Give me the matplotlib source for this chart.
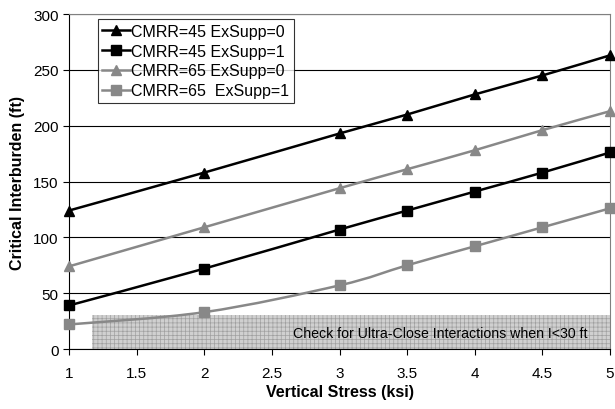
import numpy as np
import matplotlib
matplotlib.use('Agg')
import matplotlib.pyplot as plt
from matplotlib.path import Path
from matplotlib.patches import PathPatch, Rectangle
from matplotlib.lines import Line2D

plt.rcParams['font.family'] = ['Liberation Sans', 'DejaVu Sans']
plt.rcParams['hatch.linewidth'] = 0.5

stress = [1, 2, 3, 3.5, 4, 4.5, 5]
cmrr45_ex0 = [124, 158, 193, 210, 228, 245, 263]
cmrr45_ex1 = [39, 72, 107, 124, 141, 158, 176]
cmrr65_ex0 = [74, 109, 144, 161, 178, 196, 213]
cmrr65_ex1 = [22, 33, 57, 75, 92, 109, 126]
labels = ['CMRR=45 ExSupp=0', 'CMRR=45 ExSupp=1', 'CMRR=65 ExSupp=0', 'CMRR=65  ExSupp=1']
zone_x = [1.17, 5]
zone_top = 30.5
zone_text = 'Check for Ultra-Close Interactions when I<30 ft'

black = '#000000'
gray = '#888888'


def smooth_path(x, y):
    # Excel-like smoothed line: cubic bezier with catmull-rom control points
    x = np.asarray(x, float)
    y = np.asarray(y, float)
    verts = [(x[0], y[0])]
    codes = [Path.MOVETO]
    n = len(x)
    for i in range(n - 1):
        p0 = np.array([x[max(i - 1, 0)], y[max(i - 1, 0)]])
        p1 = np.array([x[i], y[i]])
        p2 = np.array([x[i + 1], y[i + 1]])
        p3 = np.array([x[min(i + 2, n - 1)], y[min(i + 2, n - 1)]])
        c1 = p1 + (p2 - p0) / 6.0
        c2 = p2 - (p3 - p1) / 6.0
        verts += [tuple(c1), tuple(c2), tuple(p2)]
        codes += [Path.CURVE4] * 3
    return Path(verts, codes)


fig = plt.figure(figsize=(6.15, 4.1), dpi=100)
ax = fig.add_axes([0.1122, 0.1463, 0.8798, 0.8171])

ax.set_xlim(1, 5)
ax.set_ylim(0, 300)
ax.set_yticks(np.arange(0, 301, 50))
ax.set_xticks(np.arange(1, 5.01, 0.5))
ax.set_xticklabels(['1', '1.5', '2', '2.5', '3', '3.5', '4', '4.5', '5'])
ax.yaxis.grid(True, color='black', linewidth=0.8)
ax.set_axisbelow(True)

# shaded zone
ax.add_patch(Rectangle((zone_x[0], 0), zone_x[1] - zone_x[0], zone_top,
                       facecolor='#d0d0d0', edgecolor='#a0a0a0', hatch='++++',
                       linewidth=0, zorder=1.5))
ax.text(4.83, 14, zone_text, ha='right', va='center', fontsize=10.2, zorder=3)

series = [
    (cmrr45_ex0, black, '^', 7.5),
    (cmrr45_ex1, black, 's', 6.5),
    (cmrr65_ex0, gray, '^', 7.5),
    (cmrr65_ex1, gray, 's', 6.5),
]
handles = []
for (vals, col, mk, ms), lab in zip(series, labels):
    ax.add_patch(PathPatch(smooth_path(stress, vals), fill=False, edgecolor=col,
                           linewidth=1.8, zorder=4, clip_on=False))
    ax.plot(stress, vals, linestyle='none', marker=mk, markersize=ms, color=col,
            zorder=5, clip_on=False)
    handles.append(Line2D([], [], color=col, linewidth=1.8, marker=mk, markersize=ms))

leg = ax.legend(handles, labels, loc='upper left', bbox_to_anchor=(0.053, 0.985),
                fontsize=11.5, frameon=True, fancybox=False, handlelength=1.7,
                handletextpad=0.1, borderpad=0.3, labelspacing=0.3, borderaxespad=0)
leg.get_frame().set_edgecolor('black')
leg.get_frame().set_linewidth(0.8)
leg.set_zorder(6)

for s in ['top', 'right']:
    ax.spines[s].set_color('#808080')
for s in ['left', 'bottom']:
    ax.spines[s].set_color('black')
ax.tick_params(axis='both', direction='out', length=4, labelsize=11, colors='black')
ax.tick_params(axis='x', pad=8)

ax.set_xlabel('Vertical Stress (ksi)', fontsize=11.5, fontweight='bold', labelpad=3)
ax.set_ylabel('Critical Interburden (ft)', fontsize=11.5, fontweight='bold', labelpad=6)

fig.savefig('out.png', dpi=100)
